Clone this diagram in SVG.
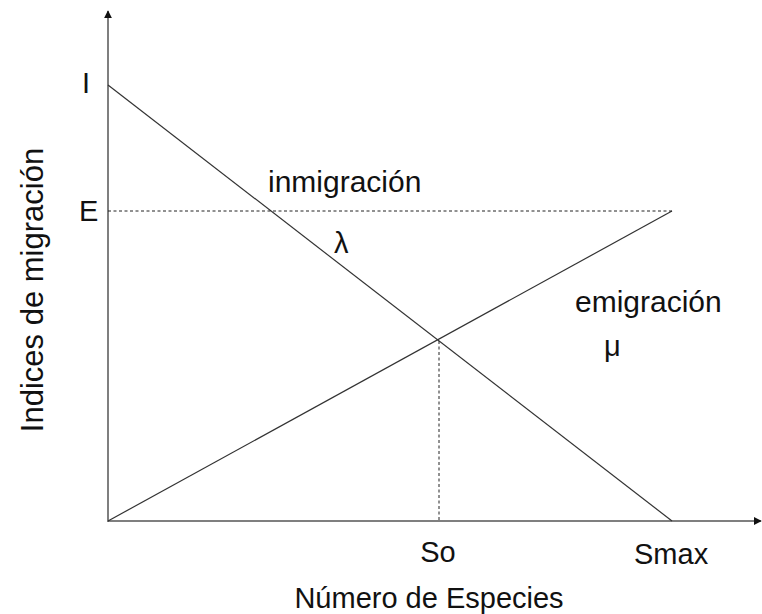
<svg xmlns="http://www.w3.org/2000/svg" width="762" height="614" viewBox="0 0 762 614">
<defs>
<style>
.t{font-family:"Liberation Sans",Arial,sans-serif;font-size:29px;fill:#111}
.big{font-size:30px}
.axis{stroke:#555;stroke-width:1.5;fill:none}
.ln{stroke:#333;stroke-width:1.2;fill:none}
.dash{stroke:#222;stroke-width:1;stroke-dasharray:3 2.5;fill:none}
</style>
<marker id="ah" viewBox="0 0 10 10" refX="9" refY="5" markerWidth="8" markerHeight="8" markerUnits="userSpaceOnUse" orient="auto">
<path d="M0,0 L10,5 L0,10 Z" fill="#111"/>
</marker>
</defs>
<rect width="762" height="614" fill="#fff"/>
<g id="axes">
<line class="axis" x1="108" y1="522" x2="108" y2="11" marker-end="url(#ah)"/>
<line class="axis" x1="108" y1="521" x2="761" y2="521" marker-end="url(#ah)"/>
</g>
<g id="connectors">
<line class="ln" x1="108" y1="85" x2="672" y2="521"/>
<line class="ln" x1="108" y1="521" x2="672" y2="211"/>
<line class="dash" x1="108" y1="211" x2="672" y2="211"/>
<line class="dash" x1="439" y1="341" x2="439" y2="521"/>
</g>
<g id="labels">
<text class="t" x="82" y="93">I</text>
<text class="t" x="79" y="221">E</text>
<text class="t big" x="268" y="192">inmigración</text>
<text class="t" x="334" y="253">λ</text>
<text class="t big" x="575" y="312">emigración</text>
<text class="t" x="604" y="356">μ</text>
<text class="t" x="438" y="562" text-anchor="middle">So</text>
<text class="t" x="634" y="564">Smax</text>
<text class="t" x="429" y="608" text-anchor="middle">Número de Especies</text>
<text class="t" style="font-size:31px" transform="translate(43,290) rotate(-90)" text-anchor="middle">Indices de migración</text>
</g>
</svg>
